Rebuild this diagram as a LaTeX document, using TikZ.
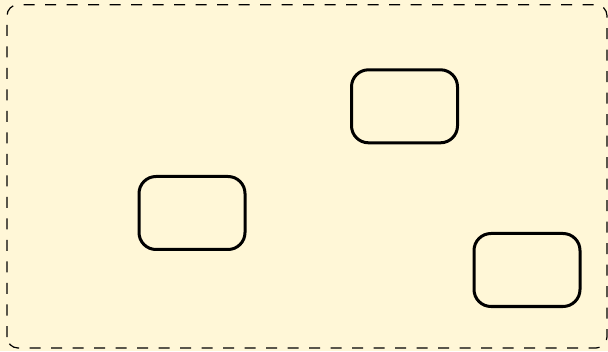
\documentclass[tikz,border=0pt]{standalone}
\usepackage{tikz}
\usetikzlibrary{positioning}

\definecolor{paper}{RGB}{255,247,215}

\begin{document}
\begin{tikzpicture}[x=1pt, y=1pt,
    statebox/.style={draw, line width=3pt, rounded corners=17pt, minimum width=106pt, minimum height=73pt, inner sep=0pt}]
    % Background
    \fill[paper] (0,0) rectangle (608,351);
    \useasboundingbox (0,0) rectangle (608,351);
    \draw[line width=1.2pt, rounded corners=11pt, dash pattern=on 11pt off 10.5pt] (7,3) rectangle (607,346.3);

    % Boxes
    \node[statebox] (upper) at (404.5,244.7) {};
    \node[statebox] (left) at (192,138) {};
    \node[statebox] (lower) at (527,81) {};
\end{tikzpicture}
\end{document}
